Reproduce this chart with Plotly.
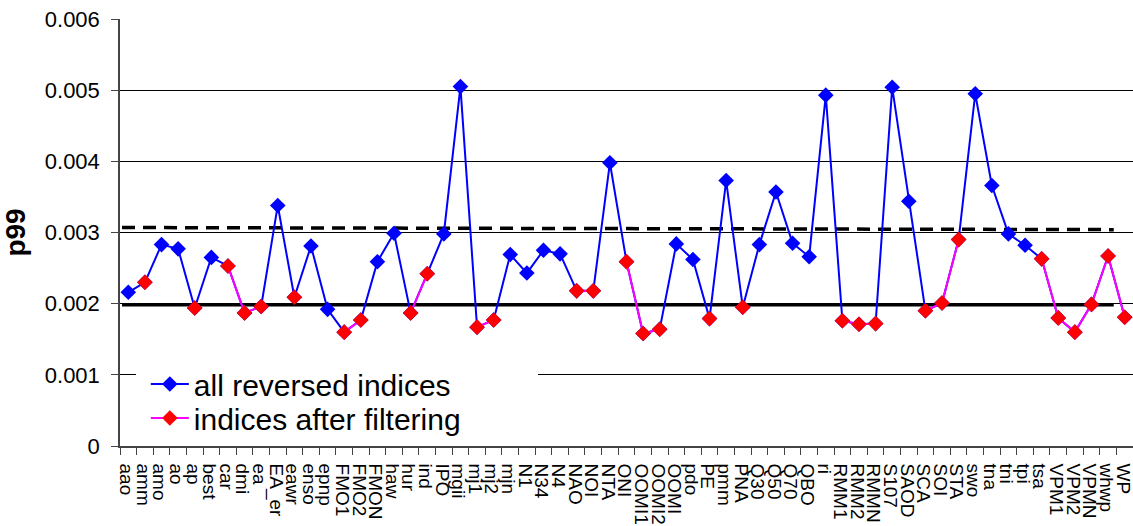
import plotly.graph_objects as go

categories = ["aao", "amm", "amo", "ao", "ap", "best", "car", "dmi", "ea", "EA_er",
              "eawr", "enso", "epnp", "FMO1", "FMO2", "FMON", "haw", "hur", "ind", "IPO",
              "mgii", "mj1", "mj2", "mjn", "N1", "N34", "N4", "NAO", "NOI", "NTA",
              "ONI", "OOMI1", "OOMI2", "OOMI", "pdo", "PE", "pmm", "PNA", "Q30", "Q50",
              "Q70", "QBO", "ri", "RMM1", "RMM2", "RMMN", "S107", "SAOD", "SCA", "SOI",
              "STA", "swo", "tna", "tni", "tpi", "tsa", "VPM1", "VPM2", "VPMN", "whwp", "WP"]

all_values = [0.00216, 0.00230, 0.00283, 0.00277, 0.00194, 0.00265, 0.00253, 0.00187, 0.00196, 0.00338,
              0.00209, 0.00281, 0.00192, 0.00160, 0.00177, 0.00259, 0.00299, 0.00187, 0.00242, 0.00298,
              0.00505, 0.00167, 0.00177, 0.00269, 0.00243, 0.00275, 0.00270, 0.00218, 0.00218, 0.00398,
              0.00259, 0.00158, 0.00164, 0.00284, 0.00262, 0.00179, 0.00373, 0.00195, 0.00283, 0.00357,
              0.00285, 0.00266, 0.00493, 0.00176, 0.00171, 0.00172, 0.00504, 0.00344, 0.00190, 0.00201,
              0.00290, 0.00495, 0.00366, 0.00298, 0.00282, 0.00263, 0.00180, 0.00160, 0.00199, 0.00267, 0.00181]

filtered_names = ["amm", "ap", "car", "dmi", "ea", "eawr", "FMO1", "FMO2", "hur", "ind",
                  "mj1", "mj2", "NAO", "NOI", "ONI", "OOMI1", "OOMI2", "PE", "PNA",
                  "RMM1", "RMM2", "RMMN", "SCA", "SOI", "STA", "tsa", "VPM1", "VPM2",
                  "VPMN", "whwp", "WP"]

lower_threshold = 0.00198
upper_threshold = [0.00307, 0.00304]

y_tick_values = [0, 0.001, 0.002, 0.003, 0.004, 0.005, 0.006]
y_tick_labels = ["0", "0.001", "0.002", "0.003", "0.004", "0.005", "0.006"]

filtered_values = [v if c in filtered_names else None for c, v in zip(categories, all_values)]

FONT = "Liberation Sans, Arial, sans-serif"

fig = go.Figure()
fig.add_trace(go.Scatter(
    x=categories, y=all_values, mode="lines+markers", name="all reversed indices",
    line=dict(color="#0000FF", width=2),
    marker=dict(symbol="diamond", size=12, color="#0000FF"),
    legend="legend",
))
fig.add_trace(go.Scatter(
    x=categories, y=filtered_values, mode="lines+markers", name="indices after filtering",
    line=dict(color="#FF00FF", width=2), connectgaps=False,
    marker=dict(symbol="diamond", size=12, color="#FF0000"),
    legend="legend2",
))

fig.add_shape(type="line", xref="x domain", yref="y", x0=0.002, x1=0.981,
              y0=lower_threshold, y1=lower_threshold,
              line=dict(color="black", width=3), layer="below")
fig.add_shape(type="line", xref="x domain", yref="y", x0=0.002, x1=0.981,
              y0=upper_threshold[0], y1=upper_threshold[1],
              line=dict(color="black", width=3.5, dash="13px,8px"), layer="below")
# white legend background box
fig.add_shape(type="rect", xref="x domain", yref="y domain", x0=0.0158, x1=0.4126,
              y0=0.014, y1=0.194, fillcolor="white", line=dict(width=0), layer="above")

legend_common = dict(xanchor="left", yanchor="middle", bgcolor="rgba(0,0,0,0)",
                     font=dict(size=30, family=FONT), itemwidth=38)

fig.update_layout(
    width=1133, height=526,
    margin=dict(l=120, r=0, t=19, b=80),
    paper_bgcolor="white", plot_bgcolor="white",
    font=dict(family=FONT, color="black"),
    showlegend=True,
    legend=dict(x=0.0255, y=0.1452, **legend_common),
    legend2=dict(x=0.0255, y=0.0656, **legend_common),
)
fig.update_xaxes(
    type="category", categoryorder="array", categoryarray=categories,
    tickmode="array", tickvals=categories, ticktext=categories,
    range=[-0.5, 60.5], tickson="boundaries", ticks="outside", ticklen=7,
    tickcolor="#444", tickangle=90, tickfont=dict(size=19, family=FONT),
    ticklabelstandoff=12, ticklabelshift=-2,
    showline=True, linecolor="#444", linewidth=1.5, showgrid=False,
    automargin=False,
)
fig.update_yaxes(
    range=[0, 0.006], tickvals=y_tick_values, ticktext=y_tick_labels,
    ticks="outside", ticklen=7, tickcolor="#444", ticklabelstandoff=7,
    tickfont=dict(size=22, family=FONT),
    showline=True, linecolor="#444", linewidth=1.5,
    showgrid=True, gridcolor="black", gridwidth=1, zeroline=False,
    title=dict(text="<b>p99</b>", font=dict(size=28, family=FONT), standoff=14),
    automargin=False,
)

fig.write_html("out.html", config={"displayModeBar": False},
               post_script="document.body.style.margin='0';")
